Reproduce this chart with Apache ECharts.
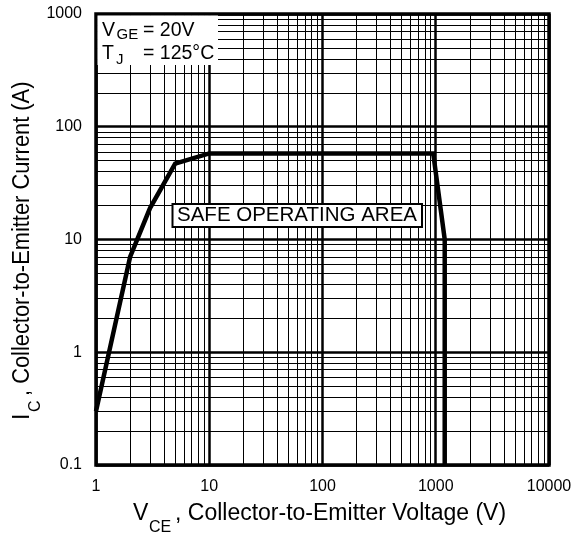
<!DOCTYPE html>
<html>
<head>
<meta charset="utf-8">
<script src="https://cdn.jsdelivr.net/npm/echarts@6/dist/echarts.min.js"></script>
<style>html,body{margin:0;padding:0;background:#fff}#c{width:580px;height:535px}</style>
</head>
<body>
<div id="c"></div>
<script>
// Safe operating area boundary (V_CE in V, I_C in A)
const soaVce = [1, 2, 3, 5, 10, 950, 1200, 1200];
const soaIc  = [0.3, 7, 19, 47, 58, 58, 10, 0.1];
// minor grid positions
const minorX = [2,3,4,5,6,7,8,9,20,30,40,50,60,70,80,90,200,300,400,500,600,700,800,900,2000,3000,4000,5000,6000,7000,8000,9000];
const minorY = [0.2,0.3,0.4,0.5,0.6,0.7,0.8,0.9,2,3,4,5,6,7,8,9,20,30,40,50,60,70,80,90,200,300,400,500,600,700,800,900];
const xTickLabels = ['1','10','100','1000','10000'];
const yTickLabels = ['0.1','1','10','100','1000'];

const FONT = '"Liberation Sans", Arial, sans-serif';
const chart = echarts.init(document.getElementById('c'), null, {renderer: 'canvas'});

const markData = minorX.map(v => ({xAxis: v})).concat(minorY.map(v => ({yAxis: v})));
const pickLabel = (list) => (v => { const s = list.find(t => Math.abs(Number(t) - v) / v < 1e-6); return s || ''; });

chart.setOption({
  animation: false,
  backgroundColor: '#fff',
  grid: {left: 96, top: 14, width: 453, height: 451, show: true, borderColor: '#000', borderWidth: 3.5, backgroundColor: 'transparent', z: 5},
  xAxis: {
    type: 'log', logBase: 10, min: 1, max: 10000,
    axisLine: {show: false}, axisTick: {show: false},
    axisLabel: {color: '#000', fontSize: 16, fontFamily: FONT, margin: 14, formatter: pickLabel(xTickLabels)},
    splitLine: {show: true, lineStyle: {color: '#000', width: 2.5}}
  },
  yAxis: {
    type: 'log', logBase: 10, min: 0.1, max: 1000,
    axisLine: {show: false}, axisTick: {show: false},
    axisLabel: {color: '#000', fontSize: 16, fontFamily: FONT, margin: 14, formatter: pickLabel(yTickLabels)},
    splitLine: {show: true, lineStyle: {color: '#000', width: 2.5}}
  },
  series: [
    {
      type: 'line', data: [], silent: true, z: 1,
      markLine: {silent: true, symbol: 'none', animation: false, label: {show: false},
        lineStyle: {color: '#000', width: 1, type: 'solid'}, data: markData}
    },
    {
      type: 'line', z: 10, symbol: 'none', silent: true,
      data: soaVce.map((v, i) => [v, soaIc[i]]),
      lineStyle: {color: '#000', width: 4.5, join: 'miter'}
    }
  ],
  graphic: [
    {type: 'rect', z: 50, shape: {x: 97.5, y: 15.5, width: 120.5, height: 49.5}, style: {fill: '#fff'}},
    {type: 'text', z: 51, x: 102, y: 30.5, style: {text: 'V', font: '19.5px ' + FONT, fill: '#000', verticalAlign: 'middle'}},
    {type: 'text', z: 51, x: 116.5, y: 35, style: {text: 'GE', font: '15px ' + FONT, fill: '#000', verticalAlign: 'middle'}},
    {type: 'text', z: 51, x: 143, y: 30.5, style: {text: '= 20V', font: '19.5px ' + FONT, fill: '#000', verticalAlign: 'middle'}},
    {type: 'text', z: 51, x: 102, y: 53.5, style: {text: 'T', font: '19.5px ' + FONT, fill: '#000', verticalAlign: 'middle'}},
    {type: 'text', z: 51, x: 116, y: 60, style: {text: 'J', font: '15px ' + FONT, fill: '#000', verticalAlign: 'middle'}},
    {type: 'text', z: 51, x: 143, y: 53.5, style: {text: '= 125°C', font: '19.5px ' + FONT, fill: '#000', verticalAlign: 'middle'}},
    {type: 'rect', z: 50, shape: {x: 172.5, y: 204, width: 249.5, height: 23}, style: {fill: '#fff', stroke: '#000', lineWidth: 2}},
    {type: 'text', z: 51, x: 297, y: 215, style: {text: 'SAFE OPERATING AREA', font: '20.5px ' + FONT, fill: '#000', align: 'center', verticalAlign: 'middle'}},
    {type: 'text', z: 51, x: 133, y: 513.5, style: {text: 'V', font: '23px ' + FONT, fill: '#000', verticalAlign: 'middle'}},
    {type: 'text', z: 51, x: 149, y: 527.5, style: {text: 'CE', font: '16px ' + FONT, fill: '#000', verticalAlign: 'middle'}},
    {type: 'text', z: 51, x: 175, y: 513.5, style: {text: ', Collector-to-Emitter Voltage (V)', font: '23px ' + FONT, fill: '#000', verticalAlign: 'middle'}},
    {type: 'group', x: 0, y: 420, rotation: Math.PI / 2, children: [
      {type: 'text', x: 0, y: 22.5, style: {text: 'I', font: '23px ' + FONT, fill: '#000', verticalAlign: 'middle'}},
      {type: 'text', x: 8, y: 36, style: {text: 'C', font: '16px ' + FONT, fill: '#000', verticalAlign: 'middle'}},
      {type: 'text', x: 24, y: 22.5, scaleX: 0.95, style: {text: ', Collector-to-Emitter Current (A)', font: '23px ' + FONT, fill: '#000', verticalAlign: 'middle'}}
    ]}
  ]
});
</script>
</body>
</html>
